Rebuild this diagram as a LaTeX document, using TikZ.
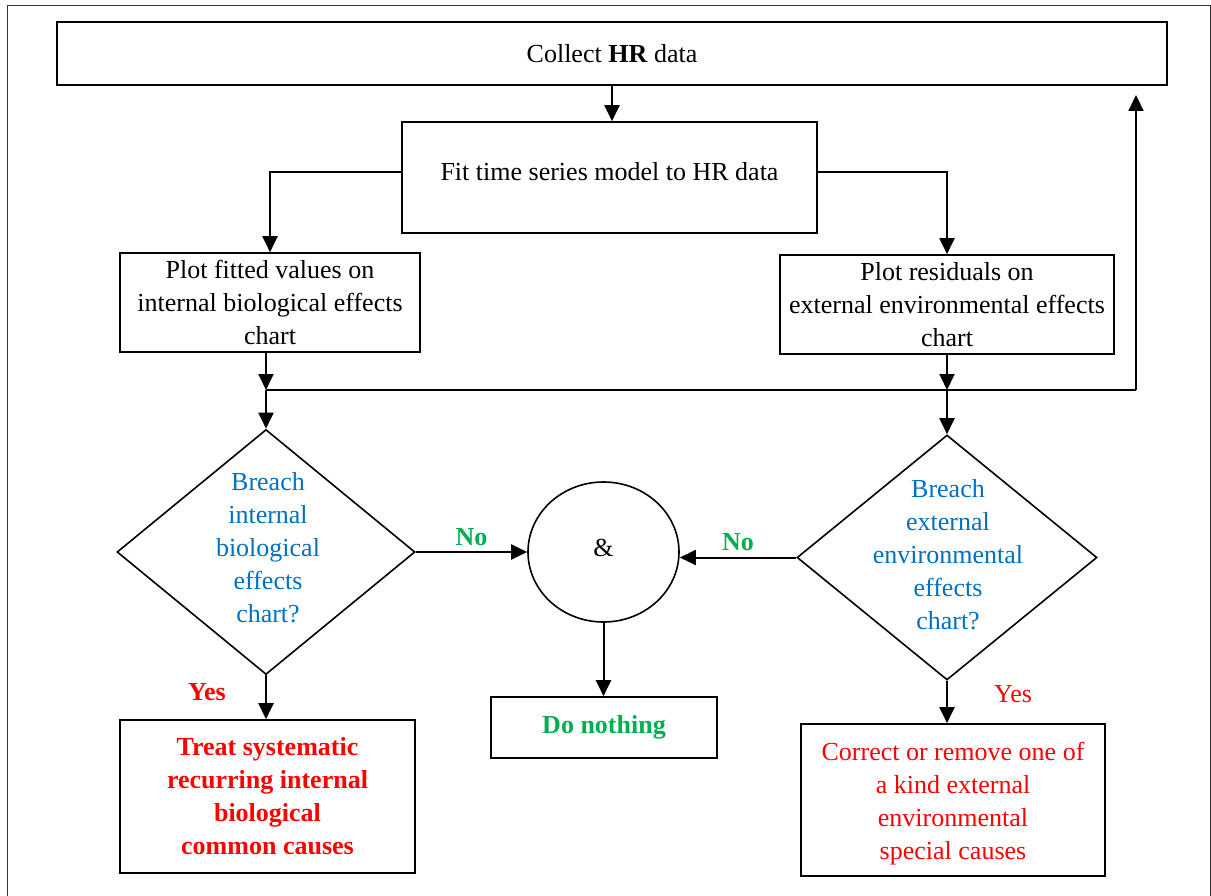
\documentclass[tikz,border=0pt]{standalone}
\usepackage{fontspec}
\setmainfont{Liberation Serif}
\usetikzlibrary{shapes.geometric,arrows.meta}
\definecolor{qblue}{RGB}{0,112,192}
\definecolor{qgreen}{RGB}{0,176,80}
\definecolor{qred}{RGB}{255,0,0}
\begin{document}
\begin{tikzpicture}[x=1pt,y=-1pt,
  font=\fontsize{26}{33}\selectfont,
  box/.style={draw,line width=1.6pt,rectangle,inner sep=0pt,align=center},
  dia/.style={draw,line width=1.6pt,diamond,inner sep=0pt},
  arr/.style={line width=2pt,-{Triangle[length=16pt,width=15pt]}},
  ln/.style={line width=2pt},
  qtext/.style={align=center,inner sep=0pt}]
\useasboundingbox (0,0) rectangle (1211,896);
% outer frame
\draw[line width=1pt,black!80] (7,896) -- (7,6) -- (1210,6) -- (1210,896);

% boxes
\node[box,minimum width=1110pt,minimum height=63pt] (collect) at (612,53.5) {Collect \textbf{HR} data};
\node[box,minimum width=415pt,minimum height=111pt] (fit) at (609.5,177.5) {};
\node[qtext] (fittext) at (609.5,172) {Fit time series model to HR data};
\node[box,minimum width=300pt,minimum height=99pt] (lplot) at (270,302.5) {Plot fitted values on\\internal biological effects\\chart};
\node[box,minimum width=334pt,minimum height=99pt] (rplot) at (947,304.5) {Plot residuals on\\external environmental effects\\chart};

\node[dia,minimum width=298pt,minimum height=245pt] (ldia) at (266,552) {};
\node[qtext,text=qblue] (ldiatext) at (268,548) {Breach\\internal\\biological\\effects\\chart?};
\node[dia,minimum width=300pt,minimum height=245pt] (rdia) at (947,557.5) {};
\node[qtext,text=qblue] (rdiatext) at (948,555) {Breach\\external\\environmental\\effects\\chart?};

\node[draw,line width=1.6pt,ellipse,minimum width=151pt,minimum height=140pt,inner sep=0pt] (amp) at (603.5,552) {};
\node[qtext] (amptext) at (603.5,548) {\&};

\node[box,minimum width=226pt,minimum height=61pt,text=qgreen,font=\fontsize{26}{33}\selectfont\bfseries] (nothing) at (604,727.5) {Do nothing};
\node[box,minimum width=295pt,minimum height=153pt,text=qred,font=\fontsize{26}{33}\selectfont\bfseries] (lbot) at (267.5,796.5) {Treat systematic\\recurring internal\\biological\\common causes};
\node[box,minimum width=304pt,minimum height=152pt,text=qred] (rbot) at (953,800) {};
\node[qtext,text=qred] (rbottext) at (953,804) {Correct or remove one of\\a kind external\\environmental\\special causes};

% junction coordinates
\coordinate (jl) at (266,390);
\coordinate (jr) at (947,390);
\coordinate (fb) at (1136,390);
\coordinate (fbtop) at (1136,95);

% connectors
\draw[arr] (collect.south) -- (collect.south |- fit.north);
\draw[arr] ([yshift=5.5pt]fit.west) -| (lplot.north);
\draw[arr] ([yshift=5.5pt]fit.east) -| (rplot.north);
\draw[arr] (lplot.south -| jl) -- (jl);
\draw[arr] (rplot.south) -- (jr);
\draw[ln] (jl) -- (fb);
\draw[arr] (fb) -- (fbtop);
\draw[arr] (jl) -- (ldia.north);
\draw[arr] (jr) -- (rdia.north);
\draw[arr] (ldia.east) -- (ldia.east -| amp.west) node[midway,above=2pt,text=qgreen,font=\fontsize{26}{33}\selectfont\bfseries] {No};
\draw[arr] (rdia.west) -- (rdia.west -| amp.east) node[midway,above=2pt,text=qgreen,font=\fontsize{26}{33}\selectfont\bfseries] {No};
\draw[arr] (amp.south) -- (amp.south |- nothing.north);
\draw[arr] (ldia.south) -- (ldia.south |- lbot.north);
\draw[arr] (rdia.south) -- (rdia.south |- rbot.north);
\node[text=qred,font=\fontsize{26}{33}\selectfont\bfseries] (yesl) at (207,692) {Yes};
\node[text=qred] (yesr) at (1013,694) {Yes};
\end{tikzpicture}
\end{document}
